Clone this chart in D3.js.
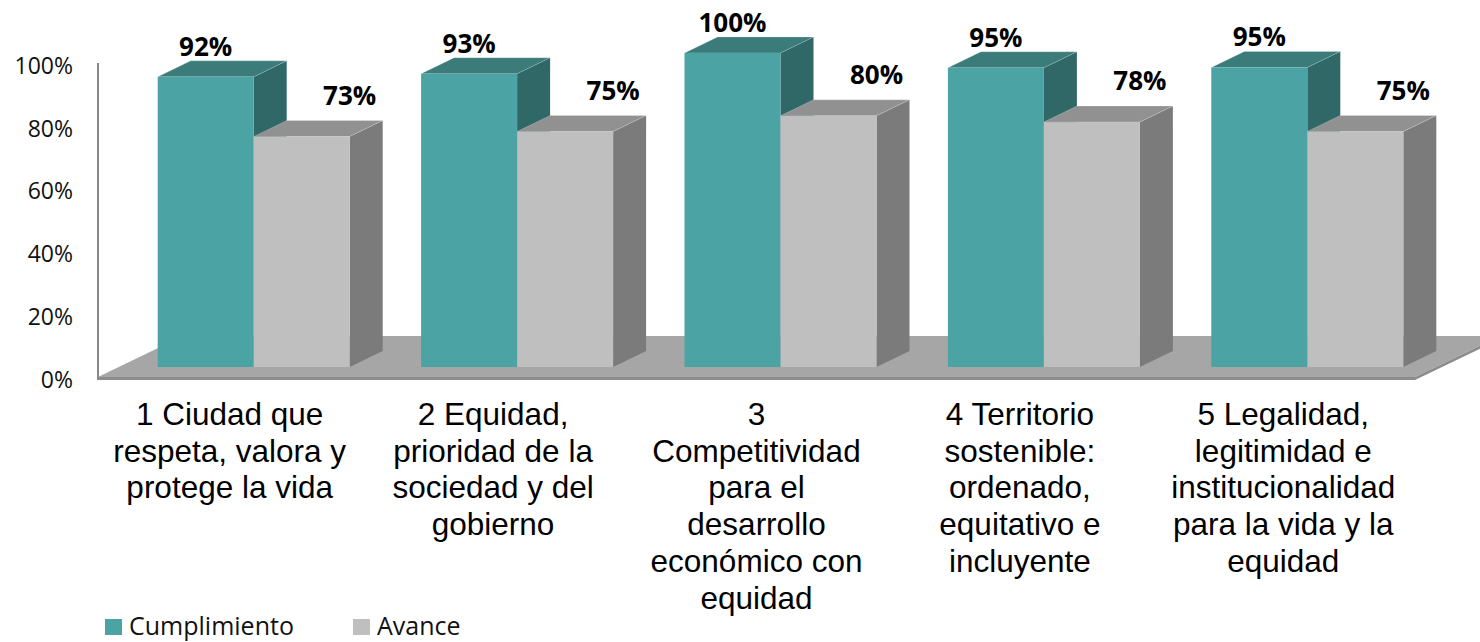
<!DOCTYPE html>
<html>
<head>
<meta charset="utf-8">
<script src="https://cdn.jsdelivr.net/npm/d3@7"></script>
<style>
  body { margin: 0; background: #fff; }
  svg { display: block; }
</style>
</head>
<body>
<script>
// chart data
var categories = ["1", "2", "3", "4", "5"];
var categoryLines = [
    ["1 Ciudad que", "respeta, valora y", "protege la vida"],
    ["2 Equidad,", "prioridad de la", "sociedad y del", "gobierno"],
    ["3", "Competitividad", "para el", "desarrollo", "económico con", "equidad"],
    ["4 Territorio", "sostenible:", "ordenado,", "equitativo e", "incluyente"],
    ["5 Legalidad,", "legitimidad e", "institucionalidad", "para la vida y la", "equidad"]
];
var seriesNames = ["Cumplimiento", "Avance"];
var cumplimiento = [0.924, 0.934, 1.0, 0.953, 0.954];
var avance = [0.734, 0.75, 0.80, 0.78, 0.75];
var yTicks = [0, 0.2, 0.4, 0.6, 0.8, 1];

window.onload = drawChart();

function drawChart(){
    var width = 1480,
        height = 642;

    var svg = d3.select("body")
        .append("svg")
        .attr("width", width)
        .attr("height", height);

    //colours for front / top / side faces
    var faces = {
        "Cumplimiento": {front: "#4ca3a4", top: "#3b7c7a", side: "#2f6867"},
        "Avance": {front: "#bfbfbf", top: "#919191", side: "#7b7b7b"}
    };

    //axis plane (floor front edge)
    var x0 = d3.scaleBand().domain(categories).range([98, 1415]);
    var y = d3.scaleLinear().domain([0, 1]).range([380, 66]);

    //bars sit a bit deeper than the axis plane
    var shiftX = 24, shiftY = -13;
    var groupW = 192;
    var x1 = d3.scaleBand().domain(seriesNames).range([0, groupW]);
    var depthX = 33, depthY = -16;

    //floor
    var fx0 = x0.range()[0], fx1 = x0.range()[1], fy = y(0);
    var floorDX = 85, floorDY = -41;
    svg.append("polygon")
        .attr("points", [[fx0, fy - 3], [fx1, fy - 3], [fx1 + floorDX, fy - 3 + floorDY], [fx0 + floorDX, fy - 3 + floorDY]].join(" "))
        .attr("fill", "#a6a6a6");
    svg.append("polygon")
        .attr("points", [[fx0, fy - 3], [fx1, fy - 3], [fx1, fy], [fx0, fy]].join(" "))
        .attr("fill", "#8c8c8c");
    svg.append("polygon")
        .attr("points", [[fx1, fy - 3], [fx1 + floorDX, fy - 3 + floorDY], [fx1 + floorDX, fy + floorDY], [fx1, fy]].join(" "))
        .attr("fill", "#8c8c8c");

    //y axis
    var yAxis = d3.axisLeft(y)
        .tickValues(yTicks)
        .tickFormat(d3.format(".0%"))
        .tickSize(0)
        .tickPadding(25);
    var gy = svg.append("g")
        .attr("transform", "translate(" + fx0 + ",0)")
        .call(yAxis);
    gy.select(".domain")
        .attr("stroke", "#888")
        .attr("stroke-width", 2)
        .attr("d", "M0," + y(0) + "V" + (y(1) - 3));
    gy.selectAll(".tick text")
        .attr("font-family", "'Open Sans', sans-serif")
        .attr("font-size", 23)
        .attr("fill", "#111");

    //build bar records
    var bars = [];
    categories.forEach(function(c, i){
        var gx = x0(c) + (x0.bandwidth() - groupW) / 2 + shiftX;
        [cumplimiento[i], avance[i]].forEach(function(v, j){
            var s = seriesNames[j];
            bars.push({
                cat: c, series: s, value: v,
                x: gx + x1(s),
                w: x1.bandwidth(),
                top: y(v) + shiftY,
                bottom: y(0) + shiftY
            });
        });
    });

    var gb = svg.append("g").attr("class", "bars");
    bars.forEach(function(b){
        var g = gb.append("g");
        var xr = b.x + b.w;
        //side face
        g.append("polygon")
            .attr("points", [[xr, b.top], [xr + depthX, b.top + depthY], [xr + depthX, b.bottom + depthY], [xr, b.bottom]].join(" "))
            .attr("fill", faces[b.series].side);
        //top face
        g.append("polygon")
            .attr("points", [[b.x, b.top], [b.x + depthX, b.top + depthY], [xr + depthX, b.top + depthY], [xr, b.top]].join(" "))
            .attr("fill", faces[b.series].top)
            .attr("stroke", "rgba(255,255,255,0.3)")
            .attr("stroke-width", 0.7);
        //front face
        g.append("rect")
            .attr("x", b.x)
            .attr("y", b.top)
            .attr("width", b.w)
            .attr("height", b.bottom - b.top)
            .attr("fill", faces[b.series].front);
    });

    //data labels
    var fmt = d3.format(".0%");
    svg.append("g").selectAll("text")
        .data(bars)
        .join("text")
        .attr("x", function(d){ return d.series === "Cumplimiento" ? d.x + d.w / 2 : d.x + d.w; })
        .attr("y", function(d){ return d.series === "Cumplimiento" ? d.top - 21 : d.top - 32; })
        .attr("text-anchor", "middle")
        .attr("font-family", "'Open Sans', sans-serif")
        .attr("font-weight", "bold")
        .attr("font-size", 26)
        .attr("fill", "#000")
        .text(function(d){ return fmt(d.value); });

    //category labels
    var lineH = 36.7;
    var gc = svg.append("g").selectAll("text")
        .data(categories)
        .join("text")
        .attr("x", function(d){ return x0(d) + x0.bandwidth() / 2; })
        .attr("y", 425)
        .attr("text-anchor", "middle")
        .attr("font-family", "'Liberation Sans', Arial, sans-serif")
        .attr("font-size", 31.5)
        .attr("fill", "#000");
    gc.each(function(d, i){
        var t = d3.select(this);
        categoryLines[i].forEach(function(line, k){
            t.append("tspan")
                .attr("x", x0(d) + x0.bandwidth() / 2)
                .attr("dy", k === 0 ? 0 : lineH)
                .text(line);
        });
    });

    //legend
    var legendX = [105, 353];
    var leg = svg.append("g").selectAll("g")
        .data(seriesNames)
        .join("g")
        .attr("transform", function(d, i){ return "translate(" + legendX[i] + ",619)"; });
    leg.append("rect")
        .attr("width", 17)
        .attr("height", 16)
        .attr("fill", function(d){ return faces[d].front; });
    leg.append("text")
        .attr("x", 24)
        .attr("y", 16)
        .attr("font-family", "'Open Sans', sans-serif")
        .attr("font-size", 25)
        .attr("fill", "#111")
        .text(function(d){ return d; });
}
</script>
</body>
</html>
